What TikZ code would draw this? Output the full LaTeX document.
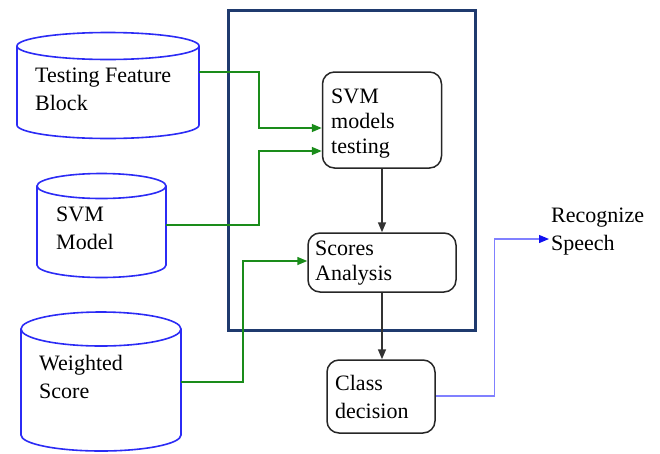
\documentclass[tikz,border=0pt]{standalone}
\usepackage{fontspec}
\setmainfont{Liberation Serif}
\usetikzlibrary{arrows.meta}
\definecolor{cylblue}{HTML}{2B2BF5}
\definecolor{navy}{HTML}{1F3A6E}
\definecolor{gline}{HTML}{1A8C1A}
\definecolor{bline}{HTML}{8080FF}
\definecolor{bhead}{HTML}{1010F0}
\begin{document}
\begin{tikzpicture}[x=1pt,y=-1pt,
  cyl/.style={draw=cylblue,line width=1.6pt},
  body/.style={draw=none,inner sep=0pt},
  rbox/.style={draw=black!85,line width=1.5pt,rounded corners=12pt,inner sep=0pt},
  lbl/.style={anchor=base west,inner sep=0pt,align=left,font=\fontsize{22}{28}\selectfont},
  garrow/.style={draw=gline,line width=1.5pt,-{Triangle[length=10pt,width=8pt]}},
  barrow/.style={draw=bline,line width=1.2pt,-{Triangle[length=10pt,width=8pt,color=bhead]}},
  karrow/.style={draw=black!80,line width=1.6pt,-{Triangle[length=10pt,width=8pt]}}]
\useasboundingbox (0,0) rectangle (660,453);
% cylinders
\draw[cyl] (17,46) -- (17,125) arc[start angle=180,end angle=0,x radius=91,y radius=13.5] -- (199,46);
\draw[cyl] (108,46) ellipse[x radius=91,y radius=13.5];
\node[body,minimum width=182pt,minimum height=79pt] (c1) at (108,85.5) {};
\draw[cyl] (37,186) -- (37,265) arc[start angle=180,end angle=0,x radius=64.5,y radius=12.5] -- (166,186);
\draw[cyl] (101.5,186) ellipse[x radius=64.5,y radius=12.5];
\node[body,minimum width=129pt,minimum height=78pt] (c2) at (101.5,225) {};
\draw[cyl] (21,329) -- (21,435) arc[start angle=180,end angle=0,x radius=80,y radius=16] -- (181,329);
\draw[cyl] (101,329) ellipse[x radius=80,y radius=17];
\node[body,minimum width=160pt,minimum height=106pt] (c3) at (101,382) {};
\node[lbl] (t1) at (35,110) {Testing Feature\\Block};
\node[lbl] (t2) at (56,249) {SVM\\Model};
\node[lbl] (t3) at (39,398) {Weighted\\Score};
% big frame
\draw[navy,line width=3pt] (228,10) rectangle (475,330);
% boxes
\node[rbox,minimum width=119pt,minimum height=96pt] (svm) at (382,120) {};
\node[rbox,minimum width=148pt,minimum height=59pt] (sco) at (382,262.5) {};
\node[rbox,minimum width=108pt,minimum height=73pt] (cls) at (381,396.5) {};
\node[lbl] (t4) at (331,153) {SVM\\[-3pt]models\\[-3pt]testing};
\node[lbl] (t5) at (315,280) {Scores\\[-3pt]Analysis};
\node[lbl] (t6) at (335,418) {Class\\decision};
\node[lbl] (t7) at (551,250) {Recognize\\Speech};
% connectors
\draw[garrow] ([yshift=13.5pt]c1.east) -- ++(60,0) |- ([yshift=-8pt]svm.west);
\draw[garrow] (c2.east) -- ++(93,0) |- ([yshift=-31pt]svm.west);
\draw[garrow] (c3.east) -- ++(62,0) |- ([yshift=1.5pt]sco.west);
\draw[karrow] (svm.south) -- (svm.south |- sco.north);
\draw[karrow] (sco.south) -- (sco.south |- cls.north);
\coordinate (rt) at ([xshift=-2pt,yshift=11pt]t7.base west);
\draw[barrow] ([yshift=0.5pt]cls.east) -- ++(59,0) |- (rt);
\end{tikzpicture}
\end{document}
